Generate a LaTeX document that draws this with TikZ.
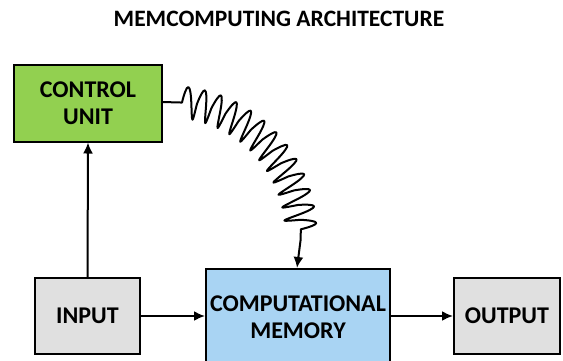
\documentclass[tikz,border=0pt]{standalone}
\usepackage{fontspec}
\setmainfont{Carlito}
\usetikzlibrary{decorations.pathmorphing,arrows.meta}
\definecolor{cugreen}{HTML}{92D050}
\definecolor{memblue}{HTML}{A9D4F3}
\definecolor{iogrey}{HTML}{E0E0E0}
\begin{document}
\begin{tikzpicture}[x=1pt,y=-1pt,
  lbl/.style={align=center, font=\bfseries\fontsize{24}{27}\selectfont, inner sep=0pt},
  box/.style={lbl, draw=black, line width=2pt},
  conn/.style={line width=2pt, -{Latex[length=11pt,width=10pt]}}]
\useasboundingbox[fill=white] (0,0) rectangle (563,360);
\node[font=\bfseries\fontsize{23.5}{27}\selectfont] (title) at (279,19) {MEMCOMPUTING ARCHITECTURE};
\node[box, fill=cugreen, minimum width=148pt, minimum height=77pt] (cu) at (88,103) {CONTROL\\UNIT};
\node[box, fill=iogrey, minimum width=105pt, minimum height=76pt] (in) at (87.5,316) {INPUT};
\node[box, fill=memblue, minimum width=184pt, minimum height=110pt, anchor=north] (mem) at (298,268) {};
\node[lbl] (memtxt) at (298,317) {COMPUTATIONAL\\MEMORY};
\node[box, fill=iogrey, minimum width=106pt, minimum height=76pt] (out) at (507,316) {OUTPUT};
\draw[conn] (in.north) -- (cu.south);
\draw[conn] (in.east) -- (in.east -| mem.west);
\draw[conn] (mem.east |- out.west) -- (out.west);
\coordinate (cw) at (162,102);
\coordinate (mt) at (297,268);
\draw[line width=2pt, line join=round, -{Latex[length=11pt,width=10pt]}, decorate,
  decoration={coil, amplitude=16pt, segment length=15pt, aspect=0.06, pre length=20pt, post length=28pt}]
  (cw) .. controls (245,98) and (318,172) .. (mt);
\end{tikzpicture}
\end{document}
